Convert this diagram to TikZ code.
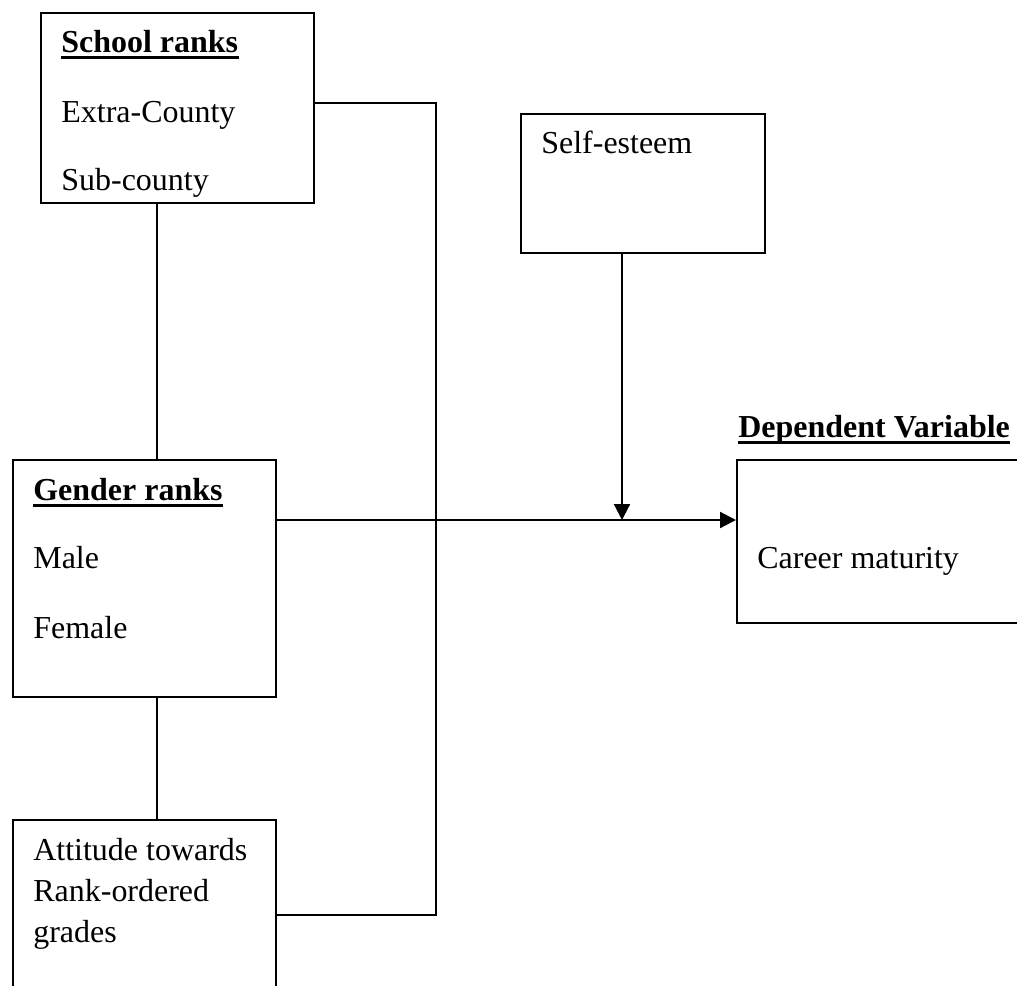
\documentclass[tikz,border=0pt]{standalone}
\usepackage{fontspec}
\setmainfont{Liberation Serif}
\usetikzlibrary{arrows.meta}
\tikzset{
  box/.style={draw, line width=1.2pt, inner sep=0pt, anchor=north west},
  txt/.style={anchor=base west, inner sep=0pt, font=\fontsize{18.2}{20}\selectfont},
  head/.style={txt, font=\fontsize{18.2}{20}\selectfont\bfseries},
  link/.style={line width=1.2pt},
  tip/.style={line width=1.2pt, -{Triangle[length=9pt,width=9pt]}}
}
\begin{document}
\begin{tikzpicture}[x=0.02cm, y=-0.02cm]
      \clip (0,0) rectangle (1017,985);
      \node [box, minimum width=5.46cm, minimum height=3.8cm] (school) at (40,12) {};
      \node [box, minimum width=5.26cm, minimum height=4.74cm] (gender) at (12,459) {};
      \node [box, minimum width=5.26cm, minimum height=4cm] (attitude) at (12,819) {};
      \node [box, minimum width=4.88cm, minimum height=2.78cm] (self) at (520,113) {};
      \node [box, minimum width=6cm, minimum height=3.26cm] (career) at (736,459) {};
      \node [head] (schoolhead) at (61,52) {School ranks};
      \node [txt] (extra) at (61,122) {Extra-County};
      \node [txt] (sub) at (61,190) {Sub-county};
      \node [head] (genderhead) at (33,500) {Gender ranks};
      \node [txt] (male) at (33,568) {Male};
      \node [txt] (female) at (33,638) {Female};
      \node [txt] (att1) at (33,860) {Attitude towards};
      \node [txt] (att2) at (33,901) {Rank-ordered};
      \node [txt] (att3) at (33,942) {grades};
      \node [txt] (selftext) at (541,153) {Self-esteem};
      \node [head] (dephead) at (738,437) {Dependent Variable};
      \node [txt] (careertext) at (757,568) {Career maturity};
      \foreach \h in {schoolhead, genderhead, dephead}
        \draw [line width=1.8pt] ([yshift=-3.2pt]\h.base west) -- ([yshift=-3.2pt]\h.base east);
      \coordinate (stem) at (157,0);
      \coordinate (bus) at (436,103);
      \coordinate (busend) at (436,915);
      \coordinate (meet) at (622,520);
      \draw [link] (school.south -| stem) -- (gender.north -| stem);
      \draw [link] (gender.south -| stem) -- (attitude.north -| stem);
      \draw [link] (school.east |- bus) -- (bus) -- (busend) -- (attitude.east |- busend);
      \draw [tip] (gender.east |- meet) -- (career.west |- meet);
      \draw [tip] (self.south -| meet) -- (meet);
    \end{tikzpicture}
\end{document}
